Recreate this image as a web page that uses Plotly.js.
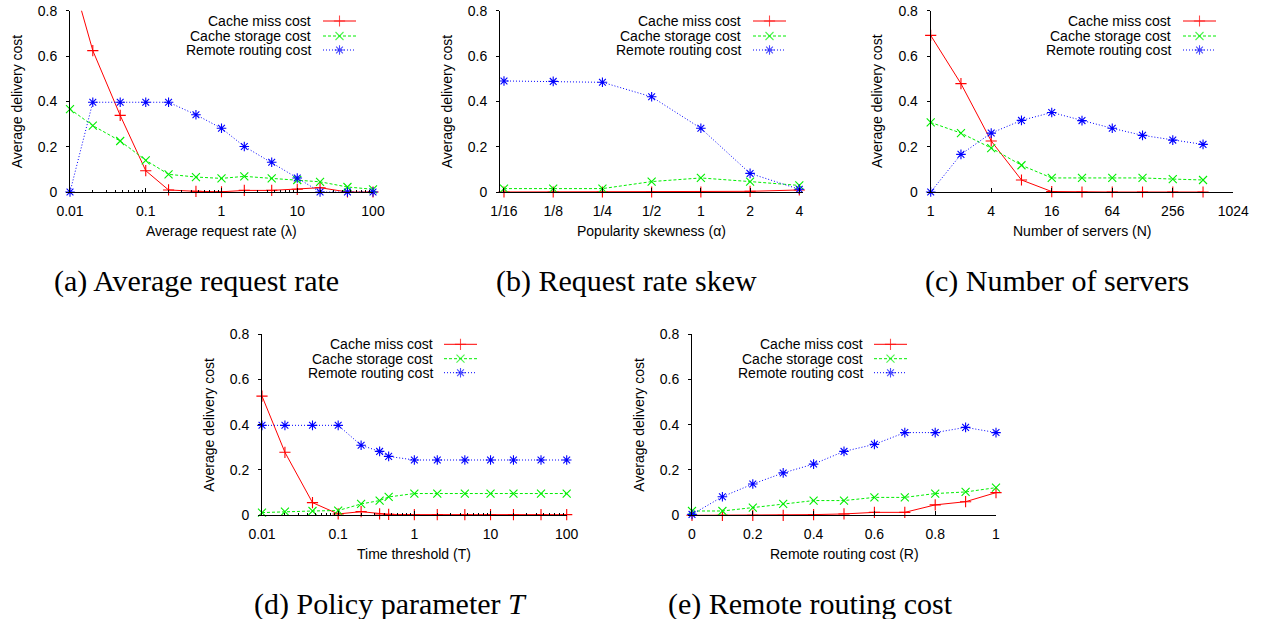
<!DOCTYPE html>
<html>
<head>
<meta charset="utf-8">
<script src="https://cdn.plot.ly/plotly-3.0.1.min.js"></script>
<style>html,body{margin:0;padding:0;background:#fff;}#chart{width:1272px;height:619px;}</style>
</head>
<body>
<div id="chart"></div>
<script>
// ---------- data ----------
const seriesNames = ['Cache miss cost', 'Cache storage cost', 'Remote routing cost'];

// (a) Average request rate
const rateX = [0.01, 0.02, 0.046, 0.1, 0.2, 0.46, 1, 2, 4.6, 10, 20, 46, 100];
const rateMiss = [0.98, 0.624, 0.338, 0.094, 0.009, 0.003, 0.001, 0.007, 0.007, 0.012, 0.019, 0, 0];
const rateStorage = [0.366, 0.293, 0.225, 0.14, 0.078, 0.066, 0.06, 0.069, 0.06, 0.053, 0.045, 0.022, 0.012];
const rateRouting = [0, 0.396, 0.396, 0.396, 0.396, 0.341, 0.281, 0.201, 0.131, 0.062, 0, 0, 0];
const rateTicks = [0.01, 0.1, 1, 10, 100];
const rateTickLabels = ['0.01', '0.1', '1', '10', '100'];

// (b) Request rate skew
const skewX = [1/16, 1/8, 1/4, 1/2, 1, 2, 4];
const skewTickLabels = ['1/16', '1/8', '1/4', '1/2', '1', '2', '4'];
const skewMiss = [0, 0, 0, 0, 0, 0.003, 0.009];
const skewStorage = [0.015, 0.015, 0.015, 0.046, 0.062, 0.046, 0.029];
const skewRouting = [0.49, 0.488, 0.484, 0.42, 0.281, 0.082, 0.012];

// (c) Number of servers
const serversX = [1, 2, 4, 8, 16, 32, 64, 128, 256, 512];
const serversTicks = [1, 4, 16, 64, 256, 1024];
const serversTickLabels = ['1', '4', '16', '64', '256', '1024'];
const serversMiss = [0.691, 0.478, 0.225, 0.053, 0.002, 0, 0, 0, 0, 0];
const serversStorage = [0.307, 0.26, 0.194, 0.118, 0.062, 0.062, 0.062, 0.062, 0.057, 0.053];
const serversRouting = [0, 0.166, 0.26, 0.316, 0.351, 0.315, 0.281, 0.25, 0.229, 0.21];

// (d) Policy parameter T
const threshX = [0.01, 0.02, 0.046, 0.1, 0.2, 0.35, 0.46, 1, 2, 4.6, 10, 20, 46, 100];
const threshMiss = [0.526, 0.278, 0.056, 0.006, 0.016, 0.006, 0.004, 0.003, 0.003, 0.003, 0.003, 0.003, 0.003, 0.003];
const threshStorage = [0.012, 0.016, 0.019, 0.021, 0.05, 0.065, 0.081, 0.096, 0.096, 0.096, 0.096, 0.096, 0.096, 0.096];
const threshRouting = [0.397, 0.397, 0.397, 0.397, 0.309, 0.282, 0.26, 0.244, 0.244, 0.244, 0.244, 0.244, 0.244, 0.244];

// (e) Remote routing cost
const remoteX = [0, 0.1, 0.2, 0.3, 0.4, 0.5, 0.6, 0.7, 0.8, 0.9, 1];
const remoteMiss = [0, 0, 0, 0, 0.003, 0.006, 0.013, 0.013, 0.046, 0.06, 0.1];
const remoteStorage = [0.019, 0.019, 0.034, 0.05, 0.065, 0.065, 0.079, 0.079, 0.096, 0.103, 0.122];
const remoteRouting = [0.004, 0.082, 0.138, 0.187, 0.226, 0.282, 0.313, 0.365, 0.365, 0.388, 0.365];

const yTicks = [0, 0.2, 0.4, 0.6, 0.8];
const yTickLabels = ['0', '0.2', '0.4', '0.6', '0.8'];
const yTitle = 'Average delivery cost';

// ---------- styling / layout helpers ----------
const W = 1272, H = 619;
const px = x => x / W;
const py = y => 1 - y / H;
const FONT = 'Liberation Sans, Arial, Helvetica, sans-serif';
const SERIF = 'Liberation Serif, Times New Roman, serif';
const FS = 14;

const styles = [
  {color: '#ff0000', dash: 'solid', symbol: 'cross-thin-open'},
  {color: '#00ee00', dash: '3px,2px', symbol: 'x-thin-open'},
  {color: '#0000ff', dash: '1px,2px', symbol: 'asterisk-open'}
];

const panels = [
  {xs: rateX, ys: [rateMiss, rateStorage, rateRouting], dom: [70, 373], row: 0,
   xtype: 'log', xrange: [-2, 2], tickvals: rateTicks, ticktext: rateTickLabels, minor: true,
   xtitle: 'Average request rate (λ)', legX: [313, 323, 356]},
  {xs: skewX, ys: [skewMiss, skewStorage, skewRouting], dom: [500, 803], row: 0,
   xtype: 'log', xrange: [-1.2285, 0.6246], tickvals: skewX, ticktext: skewTickLabels, minor: false,
   xtitle: 'Popularity skewness (α)', legX: [743, 753, 786]},
  {xs: serversX, ys: [serversMiss, serversStorage, serversRouting], dom: [930.7, 1233.3], row: 0,
   xtype: 'log', xrange: [0, Math.log10(1024)], tickvals: serversTicks, ticktext: serversTickLabels, minor: false,
   xtitle: 'Number of servers (N)', legX: [1173, 1183, 1216]},
  {xs: threshX, ys: [threshMiss, threshStorage, threshRouting], dom: [262, 566.7], row: 1,
   xtype: 'log', xrange: [-2, 2], tickvals: rateTicks, ticktext: rateTickLabels, minor: true,
   xtitle: 'Time threshold (T)', legX: [435, 444, 477]},
  {xs: remoteX, ys: [remoteMiss, remoteStorage, remoteRouting], dom: [692, 996], row: 1,
   xtype: 'linear', xrange: [0, 1], tickvals: [0, 0.2, 0.4, 0.6, 0.8, 1], ticktext: ['0', '0.2', '0.4', '0.6', '0.8', '1'], minor: false,
   xtitle: 'Remote routing cost (R)', legX: [865, 874, 907]}
];

const rows = [
  {y0: 192, y1: 10.7, leg: [21, 36, 50]},
  {y0: 515.3, y1: 334, leg: [344.3, 358.7, 372.7]}
];

const traces = [];
const layout = {
  width: W, height: H,
  margin: {l: 0, r: 0, t: 0, b: 0, pad: 0},
  paper_bgcolor: '#fff', plot_bgcolor: 'rgba(0,0,0,0)',
  showlegend: false,
  font: {family: FONT, size: FS, color: '#000'},
  annotations: []
};

panels.forEach((p, i) => {
  const n = i + 1;
  const xa = 'xaxis' + (n === 1 ? '' : n), ya = 'yaxis' + (n === 1 ? '' : n);
  const xr = 'x' + (n === 1 ? '' : n), yr = 'y' + (n === 1 ? '' : n);
  const r = rows[p.row];
  layout[xa] = {
    domain: [px(p.dom[0]), px(p.dom[1])], anchor: yr,
    type: p.xtype, range: p.xrange, tickmode: 'array', tickvals: p.tickvals, ticktext: p.ticktext,
    showgrid: false, zeroline: false, showline: true, linecolor: '#000', linewidth: 1,
    ticks: 'inside', ticklen: 4, tickcolor: '#000', tickwidth: 1,
    tickfont: {family: FONT, size: FS, color: '#000'}, ticklabelstandoff: 6,
    automargin: false, fixedrange: true
  };
  if (p.minor) {
    layout[xa].minor = {ticks: 'inside', ticklen: 2, tickcolor: '#000', tickwidth: 1, showgrid: false, dtick: 'D1'};
  }
  layout[ya] = {
    domain: [py(r.y0), py(r.y1)], anchor: xr,
    range: [0, 0.8], tickmode: 'array', tickvals: yTicks, ticktext: yTickLabels,
    showgrid: false, zeroline: false, showline: true, linecolor: '#000', linewidth: 1,
    ticks: 'outside', ticklen: 3, tickcolor: '#000', tickwidth: 1,
    tickfont: {family: FONT, size: FS, color: '#000'}, ticklabelstandoff: 6,
    automargin: false, fixedrange: true
  };
  // axis titles
  layout.annotations.push({
    xref: 'paper', yref: 'paper', x: px((p.dom[0] + p.dom[1]) / 2), y: py(r.y0 + 39),
    xanchor: 'center', yanchor: 'middle', text: p.xtitle, showarrow: false,
    font: {family: FONT, size: FS, color: '#000'}
  });
  layout.annotations.push({
    xref: 'paper', yref: 'paper', x: px(p.dom[0] - 53), y: py((r.y0 + r.y1) / 2),
    xanchor: 'center', yanchor: 'middle', textangle: -90, text: yTitle, showarrow: false,
    font: {family: FONT, size: FS, color: '#000'}
  });
  p.ys.forEach((ys, k) => {
    const s = styles[k];
    traces.push({
      type: 'scatter', mode: 'lines+markers', x: p.xs, y: ys, xaxis: xr, yaxis: yr,
      name: seriesNames[k], cliponaxis: false,
      line: {color: s.color, width: 1, dash: s.dash},
      marker: {symbol: s.symbol, size: 8, color: s.color, line: {color: s.color, width: 1.1}}
    });
  });
  // legend (text left of sample, like gnuplot)
  seriesNames.forEach((name, k) => {
    const s = styles[k];
    const yy = r.leg[k];
    layout.annotations.push({
      xref: 'paper', yref: 'paper', x: px(p.legX[0]), y: py(yy), xanchor: 'right', yanchor: 'middle',
      text: name, showarrow: false, font: {family: FONT, size: FS, color: '#000'}
    });
    traces.push({
      type: 'scatter', mode: 'lines+markers', xaxis: 'x6', yaxis: 'y6', hoverinfo: 'skip',
      x: [p.legX[1], (p.legX[1] + p.legX[2]) / 2, p.legX[2]], y: [yy, yy, yy], cliponaxis: false,
      line: {color: s.color, width: 1, dash: s.dash},
      marker: {symbol: s.symbol, size: [0, 8, 0], color: s.color, line: {color: s.color, width: 1.1}}
    });
  });
});

layout.xaxis6 = {domain: [0, 1], range: [0, W], visible: false, anchor: 'y6', fixedrange: true};
layout.yaxis6 = {domain: [0, 1], range: [H, 0], visible: false, anchor: 'x6', fixedrange: true};

// captions
const captions = [
  {text: '(a) Average request rate', x: 196.5, y: 281},
  {text: '(b) Request rate skew', x: 626, y: 281},
  {text: '(c) Number of servers', x: 1057, y: 281},
  {text: '(d) Policy parameter <i>T</i>', x: 390.5, y: 604},
  {text: '(e) Remote routing cost', x: 810, y: 604}
];
captions.forEach(c => {
  layout.annotations.push({
    xref: 'paper', yref: 'paper', x: px(c.x), y: py(c.y), xanchor: 'center', yanchor: 'middle',
    text: c.text, showarrow: false, font: {family: SERIF, size: 30, color: '#000'}
  });
});

Plotly.newPlot('chart', traces, layout, {staticPlot: true, displayModeBar: false});
</script>
</body>
</html>
